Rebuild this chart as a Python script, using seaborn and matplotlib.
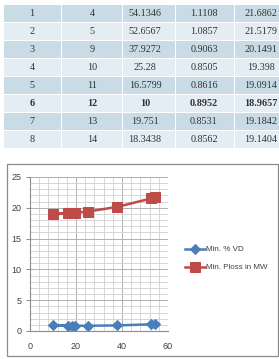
import matplotlib
matplotlib.use("Agg")
import matplotlib.pyplot as plt
import seaborn as sns
import pandas as pd
from matplotlib.patches import Rectangle
from matplotlib.ticker import MultipleLocator

# ---- data ----
case_no = [1, 2, 3, 4, 5, 6, 7, 8]
bus_no = [4, 5, 9, 10, 11, 12, 13, 14]
dg_size = [54.1346, 52.6567, 37.9272, 25.28, 16.5799, 10, 19.751, 18.3438]
min_vd = [1.1108, 1.0857, 0.9063, 0.8505, 0.8616, 0.8952, 0.8531, 0.8562]
min_ploss = [21.6862, 21.5179, 20.1491, 19.398, 19.0914, 18.9657, 19.1842, 19.1404]
vd_text = ["1.1108", "1.0857", "0.9063", "0.8505", "0.8616", "0.8952", "0.8531", "0.8562"]
ploss_text = ["21.6862", "21.5179", "20.1491", "19.398", "19.0914", "18.9657", "19.1842", "19.1404"]
size_text = ["54.1346", "52.6567", "37.9272", "25.28", "16.5799", "10", "19.751", "18.3438"]
bold_row = 5
series_names = ["Min. % VD", "Min. Ploss in MW"]

W, H = 279, 359
fig = plt.figure(figsize=(W / 100, H / 100), dpi=100)

def fx(px):
    return px / W

def fy(py):
    return 1 - py / H

# ---- table ----
tab = fig.add_axes([0, 0, 1, 1])
tab.set_xlim(0, W)
tab.set_ylim(H, 0)
tab.axis("off")
col_edges = [3, 61, 122, 175, 234, 300]
centers = [32, 92, 145, 204, 261]
row_top = 4.0
row_h = 18.0
dark = "#c9dbe5"
light = "#e4edf3"
for r in range(8):
    y0 = row_top + r * row_h
    color = dark if r % 2 == 0 else light
    for c in range(5):
        tab.add_patch(Rectangle((col_edges[c] + 0.5, y0 + 0.5), col_edges[c + 1] - col_edges[c] - 1,
                                row_h - 1, facecolor=color, edgecolor="none"))
    vals = [str(case_no[r]), str(bus_no[r]), size_text[r], vd_text[r], ploss_text[r]]
    for c, v in enumerate(vals):
        tab.text(centers[c], y0 + row_h / 2 + 0.5, v, ha="center", va="center",
                 fontsize=7.3, family="Liberation Serif", color="#333333",
                 fontweight="bold" if r == bold_row else "normal")

# chart frame
tab.add_patch(Rectangle((7, 164), 271, 192, facecolor="white", edgecolor="#8c8c8c", lw=0.9))

# ---- chart ----
ax = fig.add_axes([fx(30), fy(331), fx(168) - fx(30), fy(177) - fy(331)])
df = pd.DataFrame({"x": dg_size, "vd": min_vd, "ploss": min_ploss})
blue = "#4a7ebb"
red = "#be4b48"
sns.lineplot(data=df, x="x", y="vd", sort=False, ax=ax, color=blue, lw=1.8,
             marker="D", markersize=5, markeredgecolor=blue, label=series_names[0])
sns.lineplot(data=df, x="x", y="ploss", sort=False, ax=ax, color=red, lw=1.8,
             marker="s", markersize=6.5, markeredgecolor=red, label=series_names[1])
ax.set_xlim(0, 60)
ax.set_ylim(0, 25)
ax.xaxis.set_major_locator(MultipleLocator(20))
ax.xaxis.set_minor_locator(MultipleLocator(4))
ax.yaxis.set_major_locator(MultipleLocator(5))
ax.yaxis.set_minor_locator(MultipleLocator(1))
ax.grid(which="major", color="#b0b0b0", lw=0.7)
ax.grid(which="minor", color="#d0d0d0", lw=0.6)
ax.set_axisbelow(True)
for s in ["top", "right"]:
    ax.spines[s].set_visible(False)
for s in ["left", "bottom"]:
    ax.spines[s].set_color("#8c8c8c")
    ax.spines[s].set_linewidth(0.8)
for lab in ax.get_xticklabels() + ax.get_yticklabels():
    lab.set_family("Liberation Sans")
ax.tick_params(axis="y", which="major", length=3, width=0.7, color="#8c8c8c",
               labelsize=6.5, labelcolor="#404040", pad=3)
ax.tick_params(axis="x", which="major", length=0, labelsize=6.5, labelcolor="#404040", pad=8)
ax.tick_params(which="minor", length=0)
ax.set_xlabel("")
ax.set_ylabel("")
axw = fx(168) - fx(30)
leg = ax.legend(loc="center left", bbox_to_anchor=((fx(185) - fx(30)) / axw, 0.47),
                frameon=False, prop={"family": "Liberation Sans", "size": 5.8},
                labelcolor="#404040", handlelength=2.5,
                handletextpad=0.15, labelspacing=1.3, borderaxespad=0, borderpad=0)
for t in ax.get_xticklabels() + ax.get_yticklabels():
    t.set_fontfamily("Liberation Sans")

fig.savefig("out.png", dpi=100)
